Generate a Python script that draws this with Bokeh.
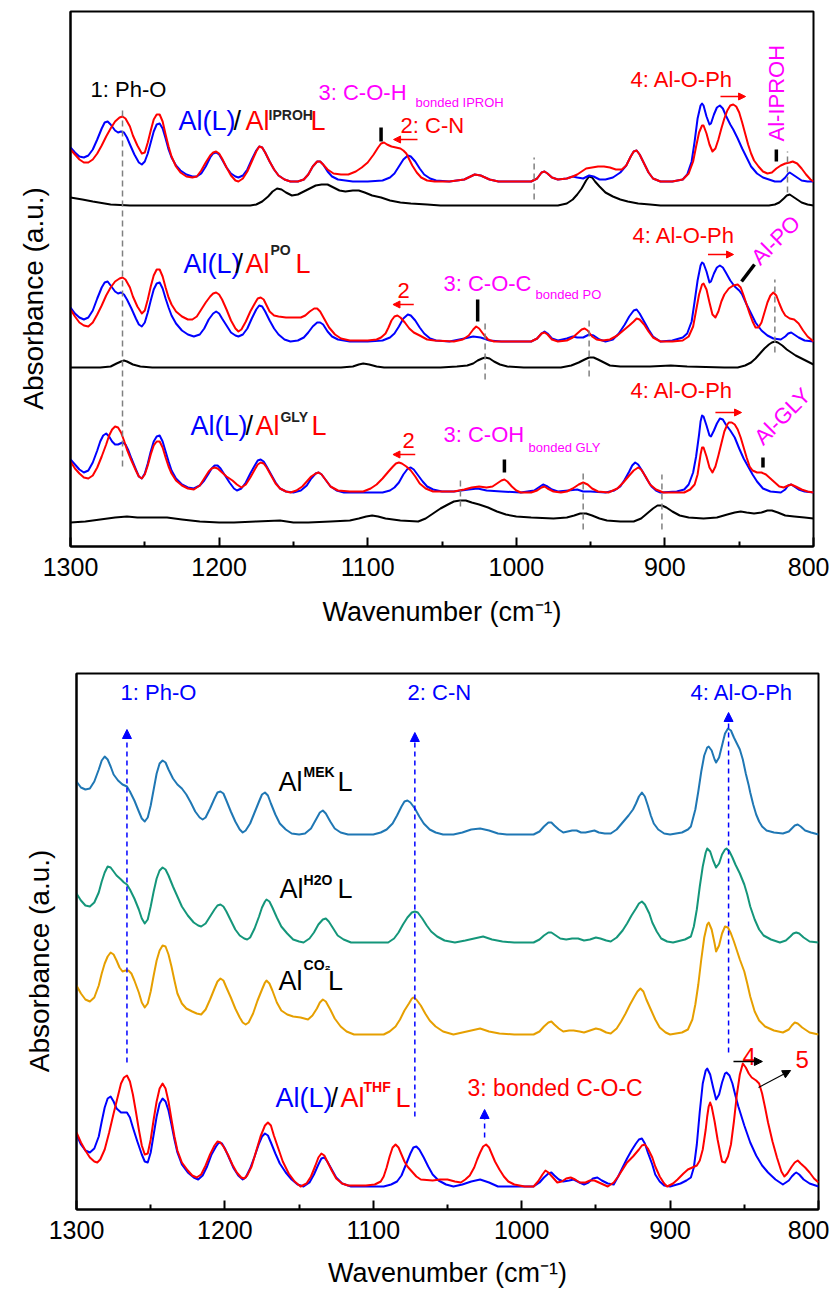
import math
from bokeh.plotting import figure
from bokeh.models import Range1d, FixedTicker, Label, Arrow, NormalHead, Spacer
from bokeh.layouts import column, row
from bokeh.embed import file_html
from bokeh.resources import INLINE

FONT = "Liberation Sans"
BLUE = "#0000ff"; RED = "#ff0000"; MAG = "#ff00ff"; GRAY = "#808080"; BLACK = "#000000"
MEK_C = "#1f77b4"; H2O_C = "#14967a"; CO2_C = "#e69f00"

MAJOR_TICKS = [1300, 1200, 1100, 1000, 900, 800]
MINOR_TICKS = [1250, 1150, 1050, 950, 850]

# ---------------- top panel spectra: (wavenumber cm-1, absorbance a.u.) ----------------
IPROH_AL_L = [(1300,399),(1297,394),(1294,390),(1291,389),(1288,391),(1285,397),(1282,407),(1279,418),(1277,424),(1275,425),(1273,422),(1270,416),(1268,414),(1266,415),(1264,414),(1262,409),(1260,402),(1257,392),(1254,384),(1252,382),(1250,385),(1248,393),(1246,404),(1244,415),(1242,422),(1240,423),(1238,418),(1236,408),(1234,397),(1232,389),(1229,381),(1226,376),(1222,372),(1218,370),(1215,370),(1212,373),(1209,380),(1206,389),(1204,393),(1202,394),(1200,392),(1198,387),(1195,379),(1192,373),(1189,370),(1187,369),(1184,371),(1181,377),(1178,387),(1175,396),(1173,400),(1171,399),(1169,394),(1166,385),(1163,377),(1160,371),(1156,367),(1152,365),(1147,365),(1143,367),(1140,372),(1137,380),(1134,385),(1132,385),(1130,382),(1127,375),(1124,370),(1120,367),(1110,365),(1100,365),(1090,366),(1085,369),(1082,373),(1079,380),(1076,387),(1073,391),(1071,390),(1068,385),(1065,378),(1062,372),(1058,368),(1054,366),(1045,365),(1035,367),(1028,372),(1024,371),(1018,367),(1012,365),(1000,365),(990,365),(986,368),(983,374),(981,375),(979,373),(976,369),(972,367),(966,368),(962,370),(959,369),(955,368),(951,371),(948,370),(944,367),(940,367),(935,369),(930,374),(926,381),(923,390),(921,395),(919,396),(917,392),(914,383),(911,374),(908,368),(903,365),(895,365),(888,367),(885,372),(882,385),(880,405),(878,428),(876,441),(875,443),(874,441),(872,430),(870,422),(869,423),(867,432),(865,439),(863,441),(861,438),(859,431),(856,422),(854,417),(851,408),(848,398),(845,389),(842,380),(838,373),(834,369),(830,367),(826,365),(822,365),(819,369),(817,373),(816,374),(814,372),(811,369),(808,366),(804,365),(800,365)]
IPROH_AL_IPROH = [(1300,397),(1297,392),(1294,387),(1291,384),(1288,384),(1285,387),(1282,393),(1279,401),(1276,410),(1273,418),(1270,425),(1267,429),(1265,430),(1263,428),(1260,420),(1258,411),(1255,401),(1252,393),(1250,394),(1248,404),(1246,416),(1244,427),(1242,432),(1240,432),(1238,425),(1236,412),(1234,400),(1232,390),(1229,380),(1226,374),(1222,370),(1218,369),(1215,370),(1212,376),(1209,384),(1206,391),(1204,394),(1202,395),(1200,393),(1198,388),(1195,379),(1192,371),(1189,366),(1187,365),(1184,368),(1181,375),(1178,385),(1175,395),(1173,400),(1171,399),(1169,394),(1166,385),(1163,377),(1160,371),(1156,367),(1152,365),(1147,365),(1143,367),(1140,372),(1137,380),(1134,385),(1132,385),(1130,382),(1127,377),(1123,373),(1118,372),(1113,372),(1108,375),(1104,379),(1100,384),(1096,392),(1093,399),(1091,403),(1089,404),(1087,402),(1084,400),(1081,399),(1078,398),(1076,396),(1074,393),(1072,387),(1070,381),(1067,374),(1064,369),(1060,366),(1055,365),(1045,365),(1035,367),(1028,372),(1024,371),(1018,367),(1012,365),(1000,365),(990,365),(986,368),(983,374),(981,375),(979,373),(976,369),(972,367),(966,368),(962,370),(959,372),(956,375),(953,378),(949,379),(945,380),(941,380),(937,379),(933,377),(929,377),(926,381),(923,390),(921,395),(919,396),(917,392),(914,383),(911,374),(908,368),(903,365),(895,365),(888,367),(884,373),(881,385),(879,400),(877,414),(875,421),(874,421),(872,413),(870,402),(868,395),(866,398),(864,407),(862,418),(860,428),(858,436),(856,441),(854,442),(852,440),(850,434),(848,424),(846,413),(844,402),(842,393),(840,386),(837,380),(834,375),(831,373),(828,374),(825,378),(822,381),(819,383),(816,384),(814,385),(811,383),(808,378),(805,372),(802,367),(800,365)]
IPROH_REF = [(1300,349),(1292,347),(1285,345),(1273,342),(1260,341),(1179,341),(1175,342),(1171,345),(1167,350),(1164,355),(1161,358),(1158,357),(1155,354),(1151,351),(1147,352),(1143,355),(1139,358),(1135,361),(1131,362),(1127,362),(1123,359),(1119,356),(1115,355),(1110,356),(1106,356),(1102,354),(1097,351),(1091,349),(1085,346),(1078,344),(1071,343),(1060,342),(1051,341),(972,341),(966,343),(962,347),(959,352),(956,358),(953,366),(951,370),(949,369),(947,365),(944,360),(940,354),(935,350),(930,347),(925,345),(918,343),(910,342),(903,341),(830,341),(826,342),(823,344),(820,348),(818,351),(816,352),(814,350),(811,347),(808,344),(804,342),(800,341)]

PO_AL_L = [(1300,239),(1297,233),(1294,229),(1291,227),(1288,229),(1285,236),(1282,248),(1279,259),(1277,264),(1275,265),(1273,261),(1270,255),(1268,253),(1266,254),(1264,252),(1262,247),(1259,238),(1256,228),(1254,222),(1252,220),(1250,224),(1248,234),(1246,246),(1244,257),(1242,263),(1240,264),(1238,258),(1236,248),(1234,239),(1232,231),(1229,223),(1225,216),(1221,212),(1217,210),(1213,212),(1210,218),(1207,227),(1204,233),(1202,235),(1200,233),(1198,228),(1195,221),(1192,214),(1189,211),(1187,210),(1184,212),(1181,218),(1178,228),(1175,237),(1173,241),(1171,240),(1169,235),(1166,226),(1163,218),(1160,212),(1156,207),(1152,205),(1147,206),(1143,209),(1140,214),(1137,220),(1134,224),(1132,224),(1130,222),(1127,215),(1124,210),(1120,207),(1112,205),(1100,205),(1090,206),(1085,209),(1082,213),(1079,220),(1076,228),(1073,232),(1071,231),(1068,226),(1065,219),(1062,213),(1058,208),(1054,206),(1045,205),(1035,208),(1029,210),(1024,209),(1018,206),(1010,205),(990,205),(986,208),(983,213),(981,215),(979,213),(976,208),(972,206),(966,208),(962,210),(959,209),(955,209),(951,212),(948,211),(944,207),(940,205),(935,207),(931,213),(927,222),(924,230),(921,236),(919,237),(917,233),(914,225),(911,217),(908,210),(903,205),(895,206),(888,209),(885,213),(882,225),(880,245),(878,266),(876,281),(875,284),(874,283),(872,275),(870,264),(869,265),(867,273),(865,279),(863,281),(861,279),(859,274),(856,266),(853,260),(850,256),(848,252),(845,242),(842,233),(839,224),(835,216),(831,211),(827,208),(822,207),(819,210),(817,213),(815,214),(813,212),(810,209),(806,206),(800,205)]
PO_AL_PO = [(1300,237),(1297,230),(1294,224),(1291,221),(1288,220),(1285,224),(1282,232),(1279,241),(1276,251),(1273,259),(1270,265),(1267,268),(1265,269),(1263,267),(1260,259),(1258,250),(1255,240),(1252,233),(1250,236),(1248,247),(1246,260),(1244,271),(1242,277),(1240,277),(1238,270),(1236,259),(1234,249),(1232,242),(1229,235),(1225,230),(1221,227),(1218,227),(1215,230),(1212,237),(1209,244),(1206,250),(1204,253),(1202,254),(1200,252),(1198,247),(1195,237),(1192,226),(1189,218),(1187,215),(1185,217),(1182,225),(1179,235),(1176,243),(1174,248),(1172,249),(1170,247),(1168,241),(1166,235),(1163,231),(1160,230),(1155,229),(1150,229),(1145,229),(1142,231),(1139,235),(1136,238),(1134,238),(1132,235),(1129,227),(1126,219),(1122,212),(1118,208),(1112,206),(1100,206),(1094,207),(1091,209),(1088,213),(1086,219),(1084,226),(1082,230),(1080,231),(1078,229),(1075,224),(1072,218),(1069,214),(1065,211),(1060,207),(1055,206),(1042,205),(1036,207),(1032,211),(1029,217),(1027,220),(1025,218),(1022,212),(1019,207),(1015,205),(990,205),(986,208),(983,213),(981,214),(979,212),(976,207),(972,205),(966,206),(962,209),(959,213),(956,217),(954,218),(952,216),(949,210),(946,207),(942,206),(937,207),(932,211),(928,216),(924,221),(921,225),(919,228),(917,227),(914,222),(911,215),(908,209),(903,205),(895,205),(888,206),(884,210),(881,220),(879,236),(877,252),(875,262),(874,263),(872,257),(870,244),(868,232),(866,229),(864,235),(862,245),(860,252),(857,258),(854,261),(851,262),(849,259),(847,251),(845,242),(843,233),(841,225),(839,219),(837,219),(835,224),(833,234),(831,244),(829,251),(827,254),(825,251),(823,243),(821,236),(819,231),(816,228),(813,227),(810,223),(807,216),(804,210),(800,205)]
PO_REF = [(1300,179),(1280,179),(1273,180),(1269,183),(1266,185),(1264,186),(1262,185),(1258,182),(1253,180),(1245,179),(1118,179),(1110,180),(1106,182),(1103,183),(1099,182),(1094,180),(1089,179),(1051,179),(1040,180),(1033,181),(1029,183),(1026,186),(1023,188),(1021,189),(1018,188),(1015,185),(1011,182),(1006,180),(995,179),(970,179),(963,181),(958,184),(954,187),(951,189),(948,189),(945,187),(941,184),(937,181),(930,180),(910,180),(896,181),(885,180),(860,179),(851,179),(846,181),(842,184),(839,188),(836,193),(833,198),(830,202),(828,204),(826,205),(824,204),(821,201),(818,197),(815,194),(812,191),(808,188),(804,185),(800,182)]

GLY_AL_L = [(1300,87),(1297,82),(1294,77),(1291,74),(1288,76),(1285,84),(1282,96),(1280,105),(1278,111),(1276,113),(1274,110),(1272,105),(1270,102),(1268,102),(1265,104),(1263,102),(1261,96),(1259,88),(1256,77),(1254,70),(1252,68),(1250,73),(1248,83),(1246,95),(1244,105),(1242,110),(1240,111),(1238,105),(1236,95),(1234,85),(1232,76),(1229,68),(1225,62),(1221,59),(1217,58),(1213,61),(1210,66),(1207,73),(1205,78),(1203,81),(1201,81),(1199,78),(1196,71),(1193,64),(1190,58),(1188,56),(1185,58),(1182,64),(1179,73),(1176,81),(1174,86),(1172,87),(1170,85),(1168,80),(1165,72),(1162,64),(1159,58),(1155,55),(1150,54),(1145,56),(1141,61),(1138,68),(1135,73),(1133,74),(1131,72),(1128,66),(1125,60),(1121,56),(1116,54),(1100,54),(1090,54),(1085,56),(1082,59),(1079,64),(1076,72),(1073,78),(1071,79),(1069,77),(1066,71),(1063,65),(1060,60),(1056,57),(1050,55),(1042,55),(1032,57),(1026,58),(1020,56),(1010,55),(997,54),(988,56),(985,59),(982,62),(979,60),(976,57),(972,55),(965,56),(959,57),(955,55),(950,55),(940,54),(934,56),(930,60),(927,67),(924,75),(922,81),(920,84),(918,82),(915,75),(912,67),(909,60),(906,56),(903,54),(892,55),(887,57),(884,62),(881,74),(879,90),(877,112),(876,125),(875,131),(874,130),(872,121),(870,111),(869,110),(867,116),(865,123),(863,128),(861,127),(859,122),(856,116),(853,109),(850,98),(847,88),(844,80),(841,72),(838,65),(834,58),(829,55),(822,54),(819,57),(817,61),(815,62),(813,60),(810,57),(806,55),(800,54)]
GLY_AL_GLY = [(1300,85),(1297,78),(1294,73),(1291,69),(1288,68),(1285,71),(1282,79),(1279,90),(1276,102),(1274,111),(1272,117),(1270,120),(1268,119),(1266,114),(1264,106),(1262,97),(1259,86),(1256,76),(1254,70),(1252,68),(1250,72),(1248,81),(1246,92),(1244,101),(1242,105),(1240,105),(1238,99),(1236,89),(1234,80),(1232,73),(1229,66),(1225,61),(1221,58),(1217,57),(1213,61),(1210,68),(1207,75),(1205,78),(1203,79),(1201,78),(1198,74),(1195,70),(1191,66),(1188,62),(1185,59),(1182,62),(1179,69),(1176,77),(1174,82),(1172,84),(1170,83),(1168,79),(1165,71),(1162,63),(1159,58),(1155,55),(1152,54),(1148,56),(1144,60),(1141,65),(1138,70),(1135,73),(1133,74),(1131,72),(1128,66),(1125,60),(1120,56),(1112,55),(1103,55),(1098,58),(1094,62),(1090,68),(1086,75),(1083,80),(1081,83),(1079,84),(1077,83),(1074,80),(1071,76),(1068,70),(1065,63),(1061,58),(1056,55),(1042,55),(1035,57),(1030,59),(1025,60),(1020,59),(1016,60),(1013,63),(1010,66),(1008,67),(1006,65),(1003,60),(1000,56),(997,54),(990,54),(986,56),(983,59),(981,60),(979,58),(975,55),(970,54),(966,55),(962,58),(958,62),(955,64),(952,62),(949,58),(945,55),(938,54),(932,58),(928,64),(924,71),(921,76),(918,79),(916,77),(913,70),(910,62),(906,57),(901,54),(887,54),(883,57),(880,62),(878,72),(877,82),(876,92),(875,99),(874,99),(872,90),(870,79),(868,74),(866,80),(864,91),(862,103),(860,115),(858,122),(857,124),(855,124),(853,122),(851,117),(849,109),(847,99),(845,89),(843,80),(841,76),(838,74),(835,74),(832,72),(829,68),(826,64),(823,60),(820,59),(817,61),(815,62),(812,60),(808,57),(804,55),(800,54)]
GLY_REF = [(1300,24),(1290,25),(1280,27),(1270,29),(1262,30),(1255,29),(1246,29),(1235,29),(1225,27),(1213,25),(1200,24),(1190,24),(1175,25),(1159,26),(1150,24),(1140,24),(1125,25),(1112,26),(1106,28),(1101,30),(1097,31),(1093,30),(1088,28),(1078,26),(1066,25),(1061,28),(1056,33),(1051,38),(1046,42),(1042,45),(1038,46),(1034,46),(1030,44),(1025,42),(1019,39),(1013,35),(1007,32),(1000,30),(990,29),(975,28),(966,29),(961,31),(957,33),(953,33),(949,31),(944,28),(939,26),(930,25),(921,25),(916,28),(912,33),(908,38),(905,41),(902,41),(899,39),(895,35),(890,31),(884,29),(874,28),(865,29),(858,32),(853,34),(849,35),(845,34),(840,33),(835,34),(831,36),(828,36),(824,34),(819,31),(813,30),(806,29),(800,28)]

# ---------------- bottom panel spectra ----------------
MEK = [(1300,428),(1297,422),(1294,420),(1291,421),(1288,428),(1285,440),(1283,449),(1281,453),(1279,450),(1277,443),(1275,435),(1272,429),(1269,425),(1266,423),(1264,418),(1261,409),(1258,398),(1256,391),(1254,388),(1252,392),(1250,404),(1248,420),(1246,436),(1244,446),(1242,449),(1240,447),(1238,440),(1235,431),(1232,425),(1229,421),(1226,415),(1223,407),(1220,398),(1217,392),(1215,390),(1213,392),(1210,401),(1207,411),(1205,417),(1203,418),(1201,416),(1199,409),(1196,398),(1193,388),(1190,380),(1188,377),(1186,379),(1183,386),(1180,397),(1177,408),(1175,415),(1173,417),(1171,414),(1169,406),(1166,395),(1163,386),(1159,380),(1155,376),(1150,375),(1146,376),(1142,381),(1139,389),(1136,397),(1134,399),(1132,396),(1129,388),(1126,381),(1122,377),(1117,375),(1110,375),(1100,375),(1095,377),(1091,380),(1087,386),(1084,394),(1081,403),(1079,408),(1077,409),(1075,407),(1072,401),(1069,393),(1066,386),(1062,380),(1058,377),(1053,375),(1046,375),(1040,377),(1034,380),(1028,381),(1022,379),(1016,376),(1010,375),(992,375),(988,378),(985,383),(982,387),(980,387),(978,384),(975,380),(972,377),(969,378),(966,379),(963,379),(960,377),(957,377),(954,378),(951,379),(948,377),(944,376),(940,376),(936,380),(932,387),(928,394),(925,400),(923,406),(921,413),(919,417),(917,413),(915,404),(913,394),(911,386),(908,380),(904,376),(900,375),(892,377),(888,380),(886,383),(883,400),(881,418),(879,438),(877,454),(875,462),(874,463),(872,459),(870,450),(869,447),(867,452),(865,464),(863,476),(861,481),(859,479),(857,472),(855,466),(853,460),(851,450),(849,436),(847,424),(846,417),(844,405),(842,395),(840,388),(838,383),(835,379),(830,377),(824,376),(820,378),(818,381),(816,384),(814,385),(812,383),(809,379),(805,377),(800,375)]
H2O = [(1300,316),(1297,309),(1294,304),(1291,303),(1288,307),(1285,317),(1283,328),(1281,337),(1279,343),(1277,342),(1275,338),(1273,334),(1270,330),(1268,327),(1266,325),(1264,320),(1261,311),(1258,300),(1256,291),(1254,286),(1252,290),(1250,303),(1248,318),(1246,331),(1244,339),(1242,342),(1240,340),(1238,334),(1235,323),(1232,313),(1229,303),(1225,294),(1221,287),(1218,284),(1216,283),(1213,286),(1210,293),(1207,300),(1205,304),(1203,305),(1201,303),(1199,298),(1196,289),(1193,280),(1190,274),(1187,271),(1185,270),(1183,272),(1180,281),(1177,293),(1175,302),(1173,308),(1172,310),(1170,308),(1168,302),(1165,292),(1162,283),(1158,276),(1154,270),(1150,268),(1147,267),(1143,271),(1140,277),(1137,285),(1134,290),(1132,291),(1130,288),(1127,281),(1124,274),(1120,270),(1115,267),(1100,267),(1090,267),(1086,271),(1083,277),(1080,285),(1077,292),(1074,297),(1072,298),(1070,297),(1067,291),(1064,284),(1061,278),(1057,273),(1052,269),(1045,267),(1038,269),(1032,271),(1026,273),(1020,270),(1013,268),(1005,267),(992,267),(988,270),(985,274),(982,277),(980,277),(977,274),(974,271),(970,270),(966,271),(962,271),(958,269),(954,270),(950,272),(947,271),(943,269),(940,268),(936,272),(932,279),(929,286),(926,294),(923,301),(921,306),(919,308),(917,305),(914,296),(912,287),(909,278),(906,271),(902,268),(898,267),(890,270),(886,273),(884,283),(882,300),(880,323),(878,343),(876,357),(875,361),(873,358),(871,349),(869,342),(867,346),(865,355),(863,360),(862,361),(860,358),(858,352),(856,345),(853,336),(850,325),(848,315),(846,303),(843,290),(840,280),(837,274),(832,270),(826,267),(822,269),(819,273),(817,276),(815,277),(813,276),(810,272),(806,268),(800,267)]
CO2 = [(1300,224),(1297,216),(1294,210),(1291,208),(1288,212),(1285,224),(1283,236),(1281,246),(1279,253),(1277,257),(1275,255),(1273,249),(1271,242),(1269,238),(1267,239),(1265,239),(1263,236),(1261,229),(1258,217),(1256,207),(1254,202),(1252,206),(1250,218),(1248,234),(1246,249),(1244,259),(1242,264),(1240,263),(1238,255),(1236,243),(1234,229),(1232,216),(1229,206),(1226,201),(1222,198),(1219,196),(1216,195),(1213,200),(1210,210),(1207,221),(1205,228),(1203,231),(1201,229),(1199,222),(1196,212),(1193,201),(1190,192),(1188,187),(1186,185),(1184,187),(1181,196),(1178,209),(1175,220),(1173,227),(1172,229),(1170,226),(1168,219),(1165,207),(1162,199),(1158,195),(1154,193),(1149,192),(1144,190),(1141,194),(1138,201),(1136,207),(1134,210),(1132,208),(1129,200),(1126,191),(1122,183),(1118,178),(1113,175),(1093,175),(1089,178),(1085,183),(1082,190),(1079,199),(1076,206),(1074,211),(1073,212),(1071,210),(1068,204),(1065,196),(1062,189),(1058,183),(1053,178),(1046,175),(1040,177),(1034,179),(1028,181),(1022,178),(1015,176),(1005,175),(992,175),(988,178),(985,183),(982,187),(980,188),(978,185),(975,181),(972,178),(968,179),(965,179),(961,178),(958,177),(954,179),(950,181),(947,180),(943,177),(940,176),(936,181),(933,188),(930,196),(927,205),(924,213),(922,218),(920,221),(918,218),(916,210),(913,200),(910,190),(907,182),(903,177),(900,175),(892,177),(888,180),(885,190),(883,205),(881,225),(879,250),(877,272),(875,285),(874,287),(872,280),(870,266),(869,258),(867,264),(865,276),(863,283),(861,282),(859,276),(857,268),(855,259),(853,250),(850,238),(848,226),(846,213),(843,198),(840,189),(836,183),(830,179),(824,177),(820,180),(818,184),(816,187),(814,186),(811,182),(806,177),(800,175)]
THF_AL_L = [(1300,75),(1297,65),(1294,59),(1291,57),(1288,61),(1285,73),(1283,88),(1281,102),(1279,111),(1277,113),(1275,108),(1273,101),(1270,97),(1268,97),(1266,97),(1264,92),(1262,82),(1259,68),(1256,55),(1254,48),(1252,47),(1250,57),(1248,75),(1246,93),(1244,106),(1242,111),(1240,108),(1238,99),(1236,85),(1234,70),(1232,57),(1229,45),(1225,37),(1221,32),(1218,30),(1215,34),(1212,43),(1209,55),(1206,63),(1204,67),(1202,66),(1200,61),(1197,51),(1194,41),(1191,34),(1188,30),(1186,32),(1183,41),(1180,53),(1177,66),(1175,73),(1173,76),(1171,74),(1169,67),(1166,56),(1163,46),(1159,37),(1155,30),(1151,25),(1147,23),(1143,27),(1140,35),(1137,45),(1135,51),(1133,52),(1131,48),(1128,40),(1125,32),(1121,26),(1115,23),(1093,23),(1088,25),(1084,28),(1081,34),(1078,45),(1075,56),(1073,62),(1071,63),(1069,60),(1066,52),(1063,43),(1060,35),(1056,29),(1051,25),(1046,23),(1040,25),(1034,28),(1028,30),(1022,27),(1016,23),(992,23),(988,27),(985,32),(982,36),(980,37),(978,34),(975,30),(972,28),(968,29),(965,30),(961,27),(958,25),(955,27),(952,31),(949,32),(946,29),(942,26),(938,25),(935,33),(932,42),(929,51),(926,59),(923,66),(921,70),(919,71),(917,66),(915,57),(912,45),(910,35),(907,28),(904,24),(900,23),(893,26),(889,29),(886,32),(884,42),(882,65),(880,98),(878,126),(876,139),(875,141),(873,135),(871,122),(869,110),(867,115),(865,127),(863,136),(862,137),(860,134),(858,126),(856,114),(854,103),(850,84),(846,67),(842,54),(838,44),(834,37),(829,30),(824,25),(820,29),(818,33),(816,36),(815,37),(813,35),(810,30),(806,26),(800,23)]
THF_AL_THF = [(1300,77),(1297,67),(1294,59),(1291,52),(1288,48),(1286,47),(1284,50),(1281,60),(1278,77),(1275,96),(1272,114),(1270,126),(1268,132),(1266,134),(1264,128),(1262,115),(1260,98),(1258,80),(1256,64),(1254,55),(1252,56),(1250,70),(1248,90),(1246,108),(1244,121),(1242,126),(1240,121),(1238,108),(1236,90),(1234,73),(1232,59),(1229,47),(1225,39),(1222,34),(1219,32),(1216,35),(1213,44),(1210,55),(1207,64),(1205,68),(1203,67),(1201,63),(1198,55),(1195,45),(1192,37),(1189,32),(1187,31),(1185,34),(1182,43),(1179,58),(1176,73),(1173,84),(1171,87),(1169,84),(1167,74),(1164,61),(1161,48),(1157,36),(1153,28),(1149,23),(1145,26),(1142,33),(1139,44),(1137,52),(1135,56),(1133,54),(1131,48),(1128,39),(1125,31),(1121,26),(1117,24),(1105,24),(1099,25),(1095,28),(1093,33),(1091,42),(1089,53),(1087,62),(1085,65),(1083,62),(1081,55),(1079,48),(1077,43),(1074,38),(1071,33),(1068,30),(1060,29),(1055,30),(1050,30),(1045,28),(1041,27),(1038,30),(1035,34),(1032,42),(1030,50),(1028,57),(1026,63),(1024,65),(1022,62),(1020,55),(1018,48),(1015,40),(1012,33),(1009,28),(1005,25),(998,23),(992,23),(989,28),(986,35),(984,39),(982,37),(979,32),(976,27),(973,28),(970,31),(967,32),(964,30),(961,27),(957,27),(954,29),(951,29),(948,27),(945,25),(942,23),(938,27),(935,33),(932,40),(929,47),(925,53),(921,60),(919,64),(917,65),(915,61),(912,52),(910,43),(907,33),(904,26),(902,23),(898,26),(895,30),(891,36),(888,40),(885,42),(882,44),(880,49),(878,60),(876,80),(875,93),(874,103),(873,107),(872,103),(870,88),(868,70),(866,55),(865,48),(863,47),(861,53),(859,65),(857,88),(855,115),(853,135),(851,146),(849,142),(847,136),(845,132),(842,129),(840,126),(838,116),(836,102),(834,87),(831,68),(828,52),(825,38),(823,33),(821,36),(818,43),(816,47),(814,49),(812,46),(809,42),(806,37),(803,31),(800,27)]

# ---------------- annotation marks ----------------
# top: grey dashed guides (wavenumber, from, to)
TOP_GUIDES = [(1265,80,439),(988,347,389),(817.5,354,395),(1021,167,225),(951,170,230),(826,194,267),(1037.6,40,70),(955,17,74),(902,17,72)]
# top: short thick black markers (x0, y0, x1, y1)
TOP_MARKS = [(1091,405,1091,419),(825,385,825,397),(1026,225,1026,247),(848.4,265,839.7,282),(1008,74,1008,87),(834,79,834,89)]
# top: red shift arrows (x_start, x_end, y)
TOP_SHIFTS = [(1066.5,1082.6,407),(862.6,845.7,450),(1069,1083,242),(871,853.8,292),(1068,1083,92),(866,848.4,134)]
# bottom: blue dashed arrows (wavenumber, from, to)
BOT_GUIDES = [(1266,147,480),(1072,93,477),(860.6,157,497),(1025,72,100)]

Y_LABEL = "Absorbance (a.u.)"
X_LABEL = "Wavenumber (cm\u207b\u00b9)"


def unzip(pairs):
    xs, ys = zip(*pairs)
    return list(xs), list(ys)


def make_fig(fw, fh, bl, br, bt, bb, lab_standoff):
    p = figure(frame_width=fw, frame_height=fh, x_range=Range1d(1300, 800), y_range=Range1d(0, fh),
               output_backend="svg", toolbar_location=None,
               min_border_left=bl, min_border_right=br, min_border_top=bt, min_border_bottom=bb)
    p.xgrid.visible = False
    p.ygrid.visible = False
    p.outline_line_color = "black"
    p.outline_line_width = 2
    p.outline_line_alpha = 1
    p.background_fill_color = "white"
    p.border_fill_color = "white"
    ax = p.xaxis[0]
    ax.ticker = FixedTicker(ticks=MAJOR_TICKS, minor_ticks=MINOR_TICKS)
    ax.major_tick_in = 9; ax.major_tick_out = 0
    ax.minor_tick_in = 5; ax.minor_tick_out = 0
    ax.major_tick_line_width = 2; ax.minor_tick_line_width = 2
    ax.axis_line_width = 2
    ax.major_label_text_font = FONT
    ax.major_label_text_font_size = "25px"
    ax.major_label_text_color = "black"
    ax.major_label_standoff = 11
    ax.axis_label = X_LABEL
    ax.axis_label_text_font = FONT
    ax.axis_label_text_font_size = "27px"
    ax.axis_label_text_font_style = "normal"
    ax.axis_label_text_color = "black"
    ax.axis_label_standoff = lab_standoff
    ay = p.yaxis[0]
    ay.ticker = FixedTicker(ticks=[])
    ay.major_tick_line_color = None
    ay.minor_tick_line_color = None
    ay.axis_line_width = 2
    ay.axis_label = Y_LABEL + "\u00a0" * 5
    ay.axis_label_text_font = FONT
    ay.axis_label_text_font_size = "28px"
    ay.axis_label_text_font_style = "normal"
    ay.axis_label_text_color = "black"
    ay.axis_label_standoff = 22
    return p


def lab(p, x, y, text, color, size, bold=False, angle=0):
    # lift the text so that (x, y) is its alphabetic baseline
    off = 0.3 * size
    a = math.radians(angle)
    p.add_layout(Label(x=x, y=y, text=text, text_color=color, text_font=FONT,
                       text_font_size=f"{size}px", text_font_style="bold" if bold else "normal",
                       text_baseline="alphabetic", text_align="left", angle=angle, angle_units="deg",
                       x_offset=-off * math.sin(a), y_offset=off * math.cos(a)))


def arrow(p, x0, y0, x1, y1, color, size=7, dash="solid", width=1.5):
    p.add_layout(Arrow(end=NormalHead(size=size, fill_color=color, line_color=color, line_width=1),
                       x_start=x0, y_start=y0, x_end=x1, y_end=y1,
                       line_color=color, line_width=width, line_dash=dash))


# ================= TOP FIGURE =================
p1 = make_fig(743, 535, 70, 16, 11, 94, 18)

for ref, l_curve, m_curve in [(IPROH_REF, IPROH_AL_L, IPROH_AL_IPROH), (PO_REF, PO_AL_L, PO_AL_PO), (GLY_REF, GLY_AL_L, GLY_AL_GLY)]:
    x, y = unzip(ref); p1.line(x, y, line_color=BLACK, line_width=2, line_join="round")
    x, y = unzip(l_curve); p1.line(x, y, line_color=BLUE, line_width=2, line_join="round")
    x, y = unzip(m_curve); p1.line(x, y, line_color=RED, line_width=2, line_join="round")

gx = [g[0] for g in TOP_GUIDES]
p1.segment(x0=gx, y0=[g[1] for g in TOP_GUIDES], x1=gx, y1=[g[2] for g in TOP_GUIDES],
           line_color=GRAY, line_width=1.5, line_dash="6 4")
p1.segment(x0=[m[0] for m in TOP_MARKS], y0=[m[1] for m in TOP_MARKS], x1=[m[2] for m in TOP_MARKS],
           y1=[m[3] for m in TOP_MARKS], line_color=BLACK, line_width=3.5)
for xs, xe, yy in TOP_SHIFTS:
    arrow(p1, xs, yy, xe, yy, RED, size=7, width=1.5)

# group 1: IPROH
lab(p1, 1286.5, 450, "1: Ph-O", BLACK, 22)
lab(p1, 1227.3, 417, "Al(L)", BLUE, 27)
lab(p1, 1190.3, 417, "/", BLACK, 27)
lab(p1, 1182.2, 417, "Al", RED, 27)
lab(p1, 1166.7, 427, "IPROH", "#222222", 14, bold=True)
lab(p1, 1138.5, 417, "L", RED, 27)
lab(p1, 1133.1, 447, "3: C-O-H", MAG, 22)
lab(p1, 1067.8, 440, "bonded IPROH", MAG, 13)
lab(p1, 1077.9, 414, "2: C-N", RED, 22)
lab(p1, 923.1, 460, "4: Al-O-Ph", RED, 22)
lab(p1, 820.2, 405, "Al-IPROH", MAG, 22, angle=90)

# group 2: PO
lab(p1, 1224.0, 274, "Al(L)", BLUE, 27)
lab(p1, 1189.0, 274, "/", BLACK, 27)
lab(p1, 1182.2, 274, "Al", RED, 27)
lab(p1, 1165.4, 292, "PO", "#222222", 14, bold=True)
lab(p1, 1148.6, 274, "L", RED, 27)
lab(p1, 921.8, 304, "4: Al-O-Ph", RED, 22)
lab(p1, 836.3, 281, "Al-PO", MAG, 22, angle=45)
lab(p1, 1049.0, 256, "3: C-O-C", MAG, 22)
lab(p1, 987.1, 248, "bonded PO", MAG, 13)
lab(p1, 1080.0, 249, "2", RED, 22)

# group 3: GLY
lab(p1, 1219.2, 112, "Al(L)", BLUE, 27)
lab(p1, 1182.2, 112, "/", BLACK, 27)
lab(p1, 1175.5, 112, "Al", RED, 27)
lab(p1, 1158.7, 125, "GLY", "#222222", 14, bold=True)
lab(p1, 1137.8, 112, "L", RED, 27)
lab(p1, 923.1, 149, "4: Al-O-Ph", RED, 22)
lab(p1, 834.3, 101, "Al-GLY", MAG, 22, angle=45)
lab(p1, 1049.0, 105, "3: C-OH", MAG, 22)
lab(p1, 991.8, 95, "bonded GLY", MAG, 13)
lab(p1, 1076.6, 99, "2", RED, 22)

# ================= BOTTOM FIGURE =================
p2 = make_fig(742, 536, 70, 11, 33, 80, 16)

for curve, col in [(MEK, MEK_C), (H2O, H2O_C), (CO2, CO2_C), (THF_AL_L, BLUE), (THF_AL_THF, RED)]:
    x, y = unzip(curve)
    p2.line(x, y, line_color=col, line_width=2, line_join="round")

for wv, y0, y1 in BOT_GUIDES:
    arrow(p2, wv, y0, wv, y1, BLUE, size=9, dash="5 4", width=1.5)

lab(p2, 1270.3, 510, "1: Ph-O", BLUE, 22)
lab(p2, 1076.9, 510, "2: C-N", BLUE, 22)
lab(p2, 886.2, 510, "4: Al-O-Ph", BLUE, 22)

lab(p2, 1163.9, 419, "Al", BLACK, 27)
lab(p2, 1147.0, 433, "MEK", BLACK, 14, bold=True)
lab(p2, 1124.1, 419, "L", BLACK, 27)

lab(p2, 1163.2, 312, "Al", BLACK, 27)
lab(p2, 1147.0, 325, "H2O", BLACK, 14, bold=True)
lab(p2, 1124.1, 312, "L", BLACK, 27)

lab(p2, 1163.9, 220, "Al", BLACK, 27)
lab(p2, 1147.0, 240, "CO\u2082", BLACK, 14, bold=True)
lab(p2, 1130.5, 220, "L", BLACK, 27)

lab(p2, 1165.9, 103, "Al(L)", BLUE, 27)
lab(p2, 1128.8, 103, "/", BLACK, 27)
lab(p2, 1122.1, 103, "Al", RED, 27)
lab(p2, 1106.6, 118, "THF", RED, 14, bold=True)
lab(p2, 1085.0, 103, "L", RED, 27)

lab(p2, 1036.5, 115, "3: bonded C-O-C", RED, 23)
lab(p2, 851.2, 146, "4", RED, 24)
lab(p2, 815.5, 143, "5", RED, 24)
arrow(p2, 857.3, 148, 837.8, 148, BLACK, size=8, width=1.5)
arrow(p2, 840.4, 122, 818.8, 139, BLACK, size=8, width=1.2)

layout = column(p1, row(Spacer(width=6, height=10), p2, spacing=0), spacing=0)
open("out.html", "w").write(file_html(layout, INLINE))
